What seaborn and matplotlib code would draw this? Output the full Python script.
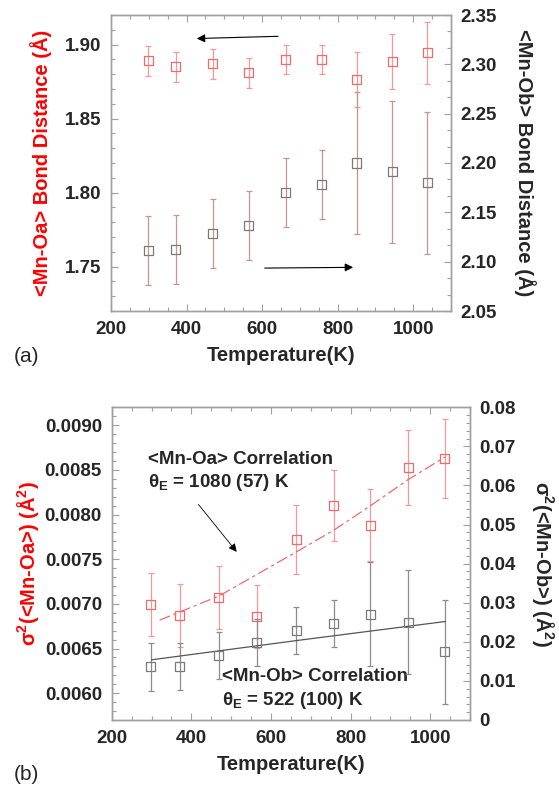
import matplotlib
matplotlib.use("Agg")
import matplotlib.pyplot as plt
import seaborn as sns
import numpy as np
from matplotlib.ticker import MultipleLocator, AutoMinorLocator, FuncFormatter, FormatStrFormatter

# ---------------- data ----------------
temperature = [298, 371, 469, 564, 663, 758, 850, 945, 1037]

# panel (a)
mn_oa_dist = [1.889, 1.885, 1.887, 1.881, 1.890, 1.890, 1.8765, 1.8885, 1.8946]
mn_oa_dist_err = [0.010, 0.010, 0.010, 0.010, 0.010, 0.010, 0.0185, 0.0185, 0.021]
mn_ob_dist = [2.111, 2.112, 2.129, 2.137, 2.1705, 2.178, 2.200, 2.191, 2.180]
mn_ob_dist_err = [0.035, 0.035, 0.035, 0.035, 0.035, 0.035, 0.072, 0.072, 0.072]

# panel (b)
mn_oa_sig2 = [0.00699, 0.00687, 0.00707, 0.00686, 0.00772, 0.00810, 0.00788, 0.00853, 0.00863]
mn_oa_sig2_err = [0.00035, 0.00035, 0.00035, 0.00035, 0.00039, 0.00040, 0.00040, 0.00042, 0.00044]
mn_ob_sig2 = [0.0136, 0.0138, 0.0165, 0.0198, 0.0228, 0.0246, 0.0270, 0.0250, 0.0175]
mn_ob_sig2_err = [0.0061, 0.0060, 0.0060, 0.0060, 0.0060, 0.0060, 0.0133, 0.0133, 0.0133]

# fitted correlation curves
fit_oa_T = [320, 470, 664, 758, 851, 945, 1038]
fit_oa_val = [0.006817, 0.007089, 0.007582, 0.007825, 0.008101, 0.008392, 0.008645]
fit_ob_T = [300, 670, 1038]
fit_ob_val = [0.0154, 0.0204, 0.0252]

xticks = [200, 400, 600, 800, 1000]

# ---------------- style ----------------
sns.set_theme(style="white")
plt.rcParams["font.family"] = ["Liberation Sans", "DejaVu Sans"]
plt.rcParams["font.weight"] = "bold"
plt.rcParams["mathtext.default"] = "regular"

RED_TXT = "#ff0000"
RED_MK = "#f26a6a"
RED_ERR = "#f49a9a"
GRAY_MK = "#7a7a7a"
BROWN_ERR = "#c99393"
GRAY_ERR = "#8c8c8c"
SPINE = "#a0a0a0"

W, H = 559, 789
fig = plt.figure(figsize=(W / 100, H / 100), dpi=100)
fig.patch.set_facecolor("white")

TICK_FS = 13.5
LAB_FS = 14.5


def style_axes(ax, right=False):
    for s in ax.spines.values():
        s.set_color(SPINE)
        s.set_linewidth(1.0)
    ax.tick_params(which="both", direction="in", color=SPINE, width=0.8,
                   labelsize=TICK_FS, top=True, bottom=True,
                   left=not right, right=right, labelleft=not right,
                   labelright=right)
    ax.tick_params(which="major", length=5, pad=7)
    ax.tick_params(which="minor", length=3)
    for lab in ax.get_xticklabels() + ax.get_yticklabels():
        lab.set_fontweight("bold")


# ================= panel (a) =================
ax1 = fig.add_axes([111 / W, 1 - 311 / H, 340 / W, 296 / H])
ax1r = ax1.twinx()

ax1.errorbar(temperature, mn_oa_dist, yerr=mn_oa_dist_err, fmt="none",
             ecolor=RED_ERR, elinewidth=0.9, capsize=2.5, capthick=0.9, zorder=2)
sns.scatterplot(x=temperature, y=mn_oa_dist, ax=ax1, marker="s", s=42,
                facecolor="none", edgecolor=RED_MK, linewidth=0.9, zorder=3)

ax1r.errorbar(temperature, mn_ob_dist, yerr=mn_ob_dist_err, fmt="none",
              ecolor=BROWN_ERR, elinewidth=0.9, capsize=2.5, capthick=0.9, zorder=2)
sns.scatterplot(x=temperature, y=mn_ob_dist, ax=ax1r, marker="s", s=42,
                facecolor="none", edgecolor=GRAY_MK, linewidth=0.9, zorder=3)

ax1.set_xlim(200, 1100)
ax1.set_ylim(1.72, 1.92)
ax1r.set_ylim(2.05, 2.35)
ax1.set_xticks(xticks)
ax1.xaxis.set_minor_locator(MultipleLocator(50))
ax1.set_yticks([1.75, 1.80, 1.85, 1.90])
ax1.yaxis.set_minor_locator(MultipleLocator(0.01))
ax1.yaxis.set_major_formatter(FormatStrFormatter("%.2f"))
ax1r.set_yticks([2.05, 2.10, 2.15, 2.20, 2.25, 2.30, 2.35])
ax1r.yaxis.set_minor_locator(AutoMinorLocator(3))
ax1r.yaxis.set_major_formatter(FormatStrFormatter("%.2f"))

style_axes(ax1)
style_axes(ax1r, right=True)
ax1r.tick_params(axis="x", which="both", top=False, bottom=False)

ax1.set_xlabel("Temperature(K)", fontsize=LAB_FS, fontweight="bold", labelpad=6)
ax1.set_ylabel("<Mn-Oa> Bond Distance (Å)", fontsize=LAB_FS, fontweight="bold",
               color=RED_TXT, labelpad=9)
ax1r.set_ylabel("<Mn-Ob> Bond Distance (Å)", fontsize=LAB_FS, fontweight="bold",
                rotation=-90, va="bottom", labelpad=12)

ax1.annotate("", xy=(427, 1.9041), xytext=(642, 1.9056),
             arrowprops=dict(arrowstyle="-|>", color="black", lw=0.8,
                             mutation_scale=12, shrinkA=0, shrinkB=0))
ax1.annotate("", xy=(841, 1.7495), xytext=(607, 1.749),
             arrowprops=dict(arrowstyle="-|>", color="black", lw=0.8,
                             mutation_scale=12, shrinkA=0, shrinkB=0))

fig.text(14 / W, 1 - 357 / H, "(a)", fontsize=15, fontweight="normal",
         va="center", ha="left")

# ================= panel (b) =================
ax2 = fig.add_axes([111.7 / W, 1 - 720 / H, 358.3 / W, 312.7 / H])
ax2r = ax2.twinx()

ax2.errorbar(temperature, mn_oa_sig2, yerr=mn_oa_sig2_err, fmt="none",
             ecolor=RED_ERR, elinewidth=0.9, capsize=2.5, capthick=0.9, zorder=2)
sns.scatterplot(x=temperature, y=mn_oa_sig2, ax=ax2, marker="s", s=42,
                facecolor="none", edgecolor=RED_MK, linewidth=0.9, zorder=3)
sns.lineplot(x=fit_oa_T, y=fit_oa_val, ax=ax2, color=RED_MK, lw=0.9,
             dashes=False, zorder=2.5)
ax2.lines[-1].set_dashes((9, 3, 2.5, 3))

ax2r.errorbar(temperature, mn_ob_sig2, yerr=mn_ob_sig2_err, fmt="none",
              ecolor=GRAY_ERR, elinewidth=0.9, capsize=2.5, capthick=0.9, zorder=2)
sns.scatterplot(x=temperature, y=mn_ob_sig2, ax=ax2r, marker="s", s=42,
                facecolor="none", edgecolor=GRAY_MK, linewidth=0.9, zorder=3)
sns.lineplot(x=fit_ob_T, y=fit_ob_val, ax=ax2r, color="#555555", lw=0.9, zorder=2.5)

ax2.set_xlim(200, 1100)
ax2.set_ylim(0.0057, 0.0092)
ax2r.set_ylim(0, 0.08)
ax2.set_xticks(xticks)
ax2.xaxis.set_minor_locator(MultipleLocator(50))
ax2.set_yticks([0.0060, 0.0065, 0.0070, 0.0075, 0.0080, 0.0085, 0.0090])
ax2.yaxis.set_minor_locator(MultipleLocator(0.0001))
ax2.yaxis.set_major_formatter(FormatStrFormatter("%.4f"))
ax2r.set_yticks([0, 0.01, 0.02, 0.03, 0.04, 0.05, 0.06, 0.07, 0.08])
ax2r.yaxis.set_minor_locator(AutoMinorLocator(5))
ax2r.yaxis.set_major_formatter(FuncFormatter(lambda v, p: f"{v:g}"))

style_axes(ax2)
style_axes(ax2r, right=True)
ax2r.tick_params(axis="x", which="both", top=False, bottom=False)

ax2.set_xlabel("Temperature(K)", fontsize=LAB_FS, fontweight="bold", labelpad=6)
ax2.set_ylabel("σ$^2$(<Mn-Oa>) (Å$^2$)", fontsize=LAB_FS, fontweight="bold",
               color=RED_TXT, labelpad=3)
ax2r.set_ylabel("σ$^2$(<Mn-Ob>) (Å$^2$)", fontsize=LAB_FS, fontweight="bold",
                rotation=-90, va="bottom", labelpad=10)

ax2.text(291, 0.008616, "<Mn-Oa> Correlation", fontsize=13.5, fontweight="bold",
         va="center", ha="left")
ax2.text(291, 0.008354, "θ$_E$ = 1080 (57) K", fontsize=13.5, fontweight="bold",
         va="center", ha="left")
ax2.text(476, 0.006182, "<Mn-Ob> Correlation", fontsize=13.5, fontweight="bold",
         va="center", ha="left")
ax2.text(476, 0.005914, "θ$_E$ = 522 (100) K", fontsize=13.5, fontweight="bold",
         va="center", ha="left")

ax2.annotate("", xy=(514, 0.007582), xytext=(418, 0.008112),
             arrowprops=dict(arrowstyle="-|>", color="black", lw=0.6,
                             mutation_scale=12, shrinkA=0, shrinkB=0))

fig.text(14 / W, 1 - 775 / H, "(b)", fontsize=15, fontweight="normal",
         va="center", ha="left")

for a in (ax1, ax1r, ax2, ax2r):
    leg = a.get_legend()
    if leg is not None:
        leg.remove()

fig.savefig("out.png", dpi=100, facecolor="white")
